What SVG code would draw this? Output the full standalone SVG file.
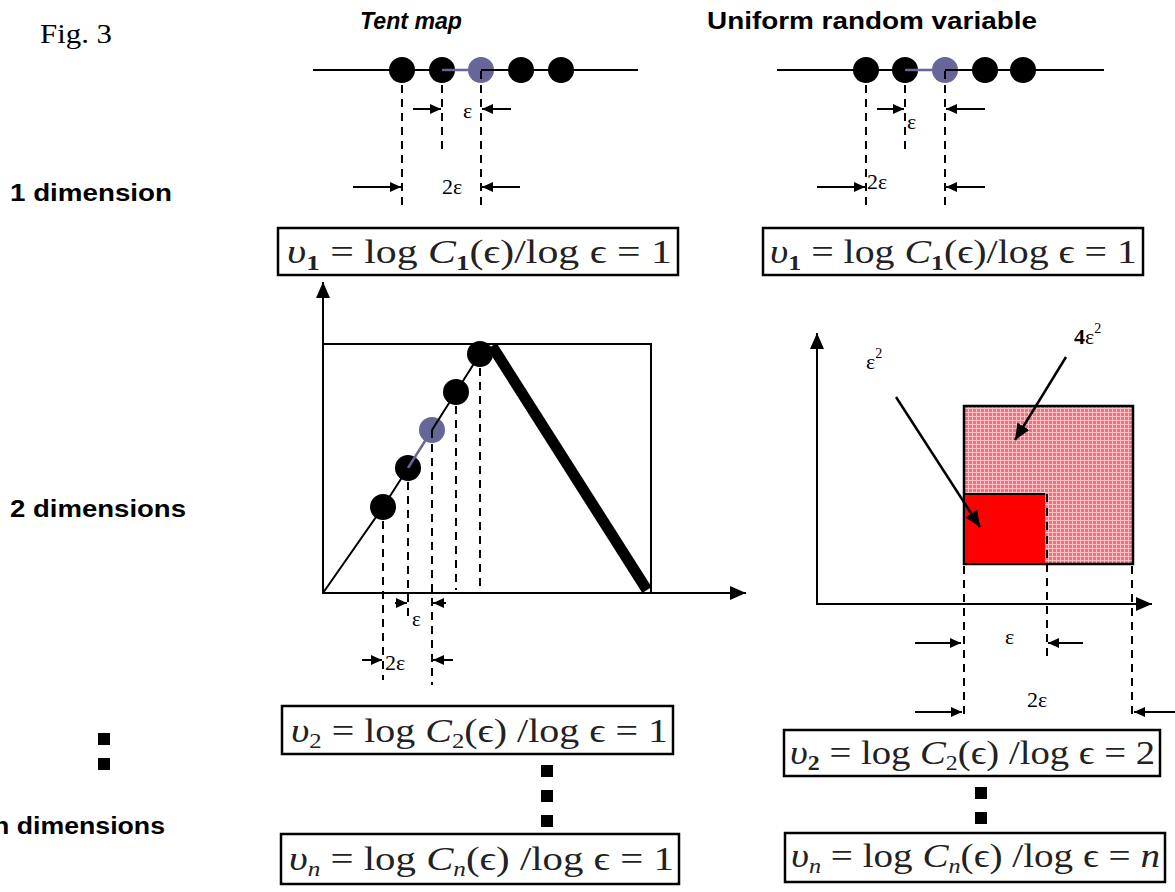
<svg xmlns="http://www.w3.org/2000/svg" width="1175" height="892" viewBox="0 0 1175 892">
<style>
.sans{font-family:"Liberation Sans",Arial,sans-serif;font-weight:bold;fill:#000}
.serif{font-family:"Liberation Serif","DejaVu Serif",serif;fill:#000}
.math{font-family:"Liberation Serif","DejaVu Serif",serif;font-size:34px;fill:#222}
.box{fill:#fff;stroke:#000;stroke-width:2.5}
.ln{stroke:#000;stroke-width:2;fill:none}
.dash{stroke:#000;stroke-width:2;stroke-dasharray:8,6;fill:none}
.blue{fill:#666699}
.bl{stroke:#666699;stroke-width:2.5}
.dim{stroke:#000;stroke-width:2;fill:none;marker-end:url(#ah)}
.sq{fill:#000}
</style>
<defs>
<marker id="ah" markerUnits="userSpaceOnUse" markerWidth="11" markerHeight="10" refX="11" refY="5" orient="auto"><path d="M0,0 L11,5 L0,10 z" fill="#000"/></marker>
<marker id="ax" markerUnits="userSpaceOnUse" markerWidth="16" markerHeight="14" refX="16" refY="7" orient="auto"><path d="M0,0 L16,7 L0,14 z" fill="#000"/></marker>
<marker id="da" markerUnits="userSpaceOnUse" markerWidth="16" markerHeight="14" refX="16" refY="7" orient="auto"><path d="M0,0 L16,7 L0,14 z" fill="#000"/></marker>
<pattern id="pk" width="4" height="4" patternUnits="userSpaceOnUse"><rect width="4" height="4" fill="#f0707c"/><path d="M0,0.5H4M0.5,0V4" stroke="#fff" stroke-width="1" opacity="0.55"/></pattern>
</defs>

<g id="titles">
<text class="serif" x="40" y="43" font-size="27" textLength="72" lengthAdjust="spacingAndGlyphs">Fig. 3</text>
<text class="sans" x="360" y="29" font-size="23" font-style="italic" textLength="102" lengthAdjust="spacingAndGlyphs">Tent map</text>
<text class="sans" x="707" y="29" font-size="23" textLength="330" lengthAdjust="spacingAndGlyphs">Uniform random variable</text>
<text class="sans" x="10" y="201" font-size="23" textLength="162" lengthAdjust="spacingAndGlyphs">1 dimension</text>
<text class="sans" x="10" y="517" font-size="23" textLength="176" lengthAdjust="spacingAndGlyphs">2 dimensions</text>
<text class="sans" x="-7" y="834" font-size="23" textLength="172" lengthAdjust="spacingAndGlyphs">n dimensions</text>
<rect class="sq" x="98" y="733" width="12" height="12"/>
<rect class="sq" x="98" y="758" width="12" height="12"/>
</g>

<g id="tent-1d">
<circle cx="402" cy="70" r="13"/>
<circle cx="442" cy="70" r="13"/>
<circle class="blue" cx="481" cy="70" r="13"/>
<circle cx="521" cy="70" r="13"/>
<circle cx="561" cy="70" r="13"/>
<line class="ln" x1="313" y1="70" x2="442" y2="70"/>
<line class="bl" x1="442" y1="70" x2="481" y2="70"/>
<line class="ln" x1="481" y1="70" x2="638" y2="70"/>
<line class="dash" x1="402" y1="71" x2="402" y2="210"/>
<line class="dash" x1="442" y1="71" x2="442" y2="150"/>
<line class="dash" x1="481" y1="71" x2="481" y2="210"/>
<line class="dim" x1="413" y1="109" x2="441" y2="109"/>
<line class="dim" x1="511" y1="109" x2="482" y2="109"/>
<text class="serif" x="463" y="118" font-size="22">ε</text>
<line class="dim" x1="353" y1="187" x2="401" y2="187"/>
<line class="dim" x1="520" y1="187" x2="482" y2="187"/>
<text class="serif" x="442" y="194" font-size="22">2ε</text>
</g>

<g id="unif-1d">
<circle cx="866" cy="70" r="13"/>
<circle cx="905" cy="70" r="13"/>
<circle class="blue" cx="945" cy="70" r="13"/>
<circle cx="985" cy="70" r="13"/>
<circle cx="1023" cy="70" r="13"/>
<line class="ln" x1="777" y1="70" x2="905" y2="70"/>
<line class="bl" x1="905" y1="70" x2="945" y2="70"/>
<line class="ln" x1="945" y1="70" x2="1104" y2="70"/>
<line class="dash" x1="866" y1="71" x2="866" y2="210"/>
<line class="dash" x1="905" y1="71" x2="905" y2="150"/>
<line class="dash" x1="945" y1="71" x2="945" y2="210"/>
<line class="dim" x1="877" y1="109" x2="904" y2="109"/>
<line class="dim" x1="985" y1="109" x2="946" y2="109"/>
<text class="serif" x="907" y="129" font-size="22">ε</text>
<line class="dim" x1="817" y1="187" x2="865" y2="187"/>
<line class="dim" x1="985" y1="187" x2="946" y2="187"/>
<text class="serif" x="867" y="189" font-size="22">2ε</text>
</g>

<g id="box-tent-v1">
<rect class="box" x="278" y="228" width="400" height="47"/>
<text class="math" x="287" y="263" textLength="385" lengthAdjust="spacingAndGlyphs"><tspan font-style="italic">υ</tspan><tspan font-size="22" font-weight="bold" dy="7">1</tspan><tspan dy="-7"> = log </tspan><tspan font-style="italic">C</tspan><tspan font-size="22" font-weight="bold" dy="7">1</tspan><tspan dy="-7">(ϵ)/log ϵ = 1</tspan></text>
</g>

<g id="box-unif-v1">
<rect class="box" x="763" y="228" width="380" height="47"/>
<text class="math" x="770" y="263" textLength="367" lengthAdjust="spacingAndGlyphs"><tspan font-style="italic">υ</tspan><tspan font-size="22" font-weight="bold" dy="7">1</tspan><tspan dy="-7"> = log </tspan><tspan font-style="italic">C</tspan><tspan font-size="22" font-weight="bold" dy="7">1</tspan><tspan dy="-7">(ϵ)/log ϵ = 1</tspan></text>
</g>

<g id="tent-2d">
<line class="ln" x1="323" y1="594" x2="323" y2="282" marker-end="url(#ax)"/>
<line class="ln" x1="323" y1="593" x2="746" y2="593" marker-end="url(#ax)"/>
<polyline class="ln" points="323,344 651,344 651,593"/>
<line stroke="#000" stroke-width="11" x1="492" y1="346" x2="647" y2="590"/>
<circle cx="383" cy="507" r="13"/>
<circle cx="408" cy="468" r="13"/>
<circle class="blue" cx="432" cy="430" r="13"/>
<circle cx="456" cy="392" r="13"/>
<circle cx="480" cy="354" r="13"/>
<polyline class="ln" points="323,593 383,507 408,468"/>
<line class="bl" x1="408" y1="468" x2="432" y2="430"/>
<polyline class="ln" points="432,430 456,392 480,354"/>
<line class="dash" x1="383" y1="507" x2="383" y2="680"/>
<line class="dash" x1="408" y1="468" x2="408" y2="622"/>
<line class="dash" x1="432" y1="430" x2="432" y2="685"/>
<line class="dash" x1="456" y1="392" x2="456" y2="590"/>
<line class="dash" x1="480" y1="354" x2="480" y2="590"/>
<line class="dim" x1="395" y1="603" x2="407" y2="603"/>
<line class="dim" x1="446" y1="603" x2="433" y2="603"/>
<text class="serif" x="412" y="626" font-size="21">ε</text>
<line class="dim" x1="362" y1="660" x2="382" y2="660"/>
<line class="dim" x1="453" y1="660" x2="433" y2="660"/>
<text class="serif" x="385" y="670" font-size="22">2ε</text>
</g>

<g id="unif-2d">
<line class="ln" x1="817" y1="605" x2="817" y2="333" marker-end="url(#ax)"/>
<line class="ln" x1="817" y1="604" x2="1152" y2="604" marker-end="url(#ax)"/>
<rect x="964" y="406" width="169" height="158" fill="url(#pk)" stroke="#000" stroke-width="2.5"/>
<rect x="964" y="494" width="81" height="70" fill="#ff0000"/>
<polyline class="ln" points="1045,494 964,494 964,564 1045,564"/>
<line class="dash" x1="964" y1="566" x2="964" y2="720"/>
<line class="dash" x1="1047" y1="494" x2="1047" y2="662"/>
<line class="dash" x1="1132" y1="566" x2="1132" y2="720"/>
<line stroke="#000" stroke-width="2.5" x1="896" y1="397" x2="980" y2="527" marker-end="url(#da)"/>
<text class="serif" x="866" y="369" font-size="22">ε<tspan font-size="14" dy="-11">2</tspan></text>
<line stroke="#000" stroke-width="2.5" x1="1066" y1="357" x2="1015" y2="440" marker-end="url(#da)"/>
<text class="serif" x="1074" y="344" font-size="22"><tspan font-weight="bold">4</tspan>ε<tspan font-size="14" dy="-11">2</tspan></text>
<line class="dim" x1="915" y1="643" x2="961" y2="643"/>
<line class="dim" x1="1083" y1="643" x2="1048" y2="643"/>
<text class="serif" x="1005" y="644" font-size="22">ε</text>
<line class="dim" x1="915" y1="712" x2="962" y2="712"/>
<line class="dim" x1="1175" y1="712" x2="1134" y2="712"/>
<text class="serif" x="1027" y="707" font-size="22">2ε</text>
</g>

<g id="box-tent-v2">
<rect class="box" x="282" y="706" width="391" height="48"/>
<text class="math" x="291" y="742" textLength="377" lengthAdjust="spacingAndGlyphs"><tspan font-style="italic">υ</tspan><tspan font-size="21" dy="6">2</tspan><tspan dy="-6"> = log </tspan><tspan font-style="italic">C</tspan><tspan font-size="21" dy="6">2</tspan><tspan dy="-6">(ϵ) /log ϵ = 1</tspan></text>
</g>
<g id="dots-tent">
<rect class="sq" x="541" y="765" width="12" height="12"/>
<rect class="sq" x="541" y="790" width="12" height="12"/>
<rect class="sq" x="541" y="815" width="12" height="12"/>
</g>
<g id="box-tent-vn">
<rect class="box" x="281" y="834" width="398" height="50"/>
<text class="math" x="289" y="870" textLength="385" lengthAdjust="spacingAndGlyphs"><tspan font-style="italic">υ</tspan><tspan font-size="21" font-style="italic" dy="6">n</tspan><tspan dy="-6"> = log </tspan><tspan font-style="italic">C</tspan><tspan font-size="21" font-style="italic" dy="6">n</tspan><tspan dy="-6">(ϵ) /log ϵ = 1</tspan></text>
</g>

<g id="box-unif-v2">
<rect class="box" x="784" y="730" width="376" height="46"/>
<text class="math" x="790" y="764" textLength="365" lengthAdjust="spacingAndGlyphs"><tspan font-style="italic">υ</tspan><tspan font-size="21" font-weight="bold" dy="6">2</tspan><tspan dy="-6"> = log </tspan><tspan font-style="italic">C</tspan><tspan font-size="21" dy="6">2</tspan><tspan dy="-6">(ϵ) /log ϵ = 2</tspan></text>
</g>
<g id="dots-unif">
<rect class="sq" x="975" y="787" width="12" height="12"/>
<rect class="sq" x="975" y="812" width="12" height="12"/>
</g>
<g id="box-unif-vn">
<rect class="box" x="785" y="833" width="380" height="49"/>
<text class="math" x="791" y="867" textLength="369" lengthAdjust="spacingAndGlyphs"><tspan font-style="italic">υ</tspan><tspan font-size="21" font-style="italic" dy="6">n</tspan><tspan dy="-6"> = log </tspan><tspan font-style="italic">C</tspan><tspan font-size="21" font-style="italic" dy="6">n</tspan><tspan dy="-6">(ϵ) /log ϵ = </tspan><tspan font-style="italic">n</tspan></text>
</g>
</svg>
